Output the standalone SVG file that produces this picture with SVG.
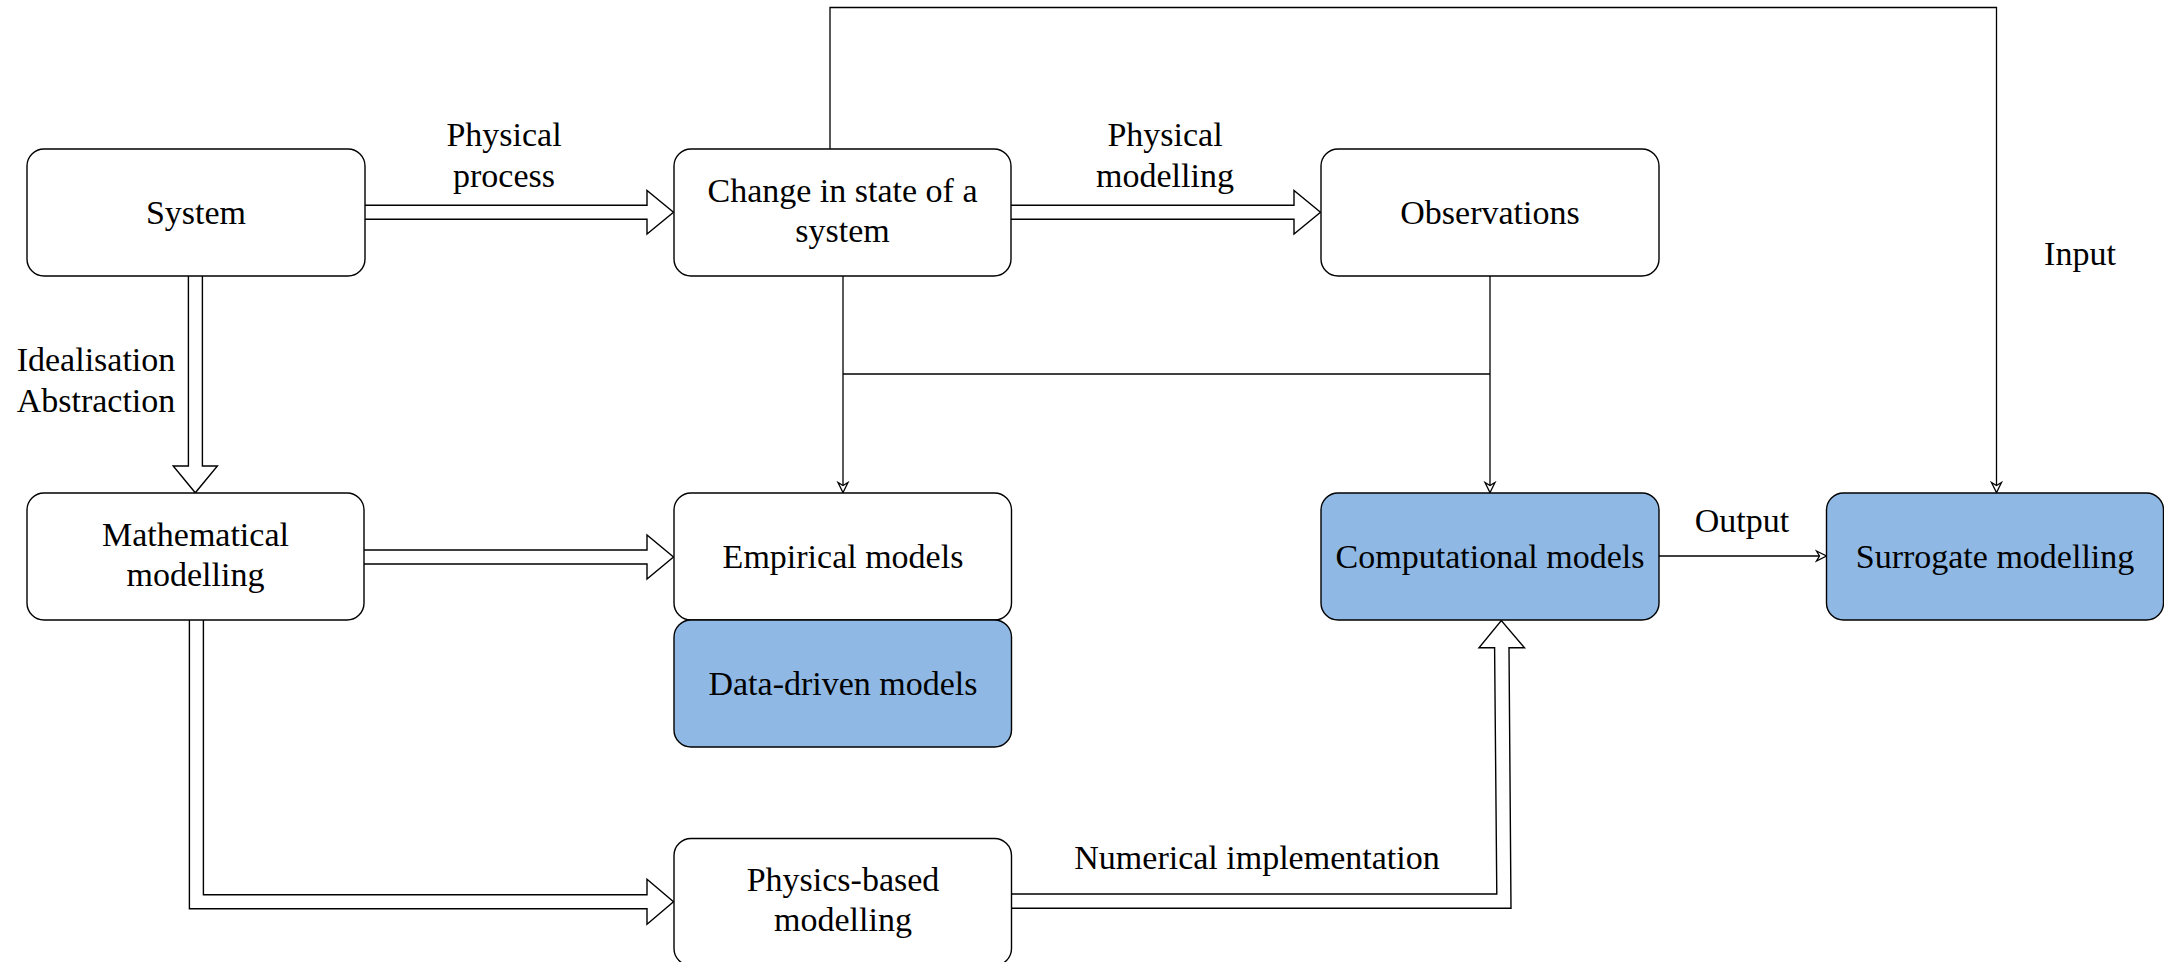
<svg xmlns="http://www.w3.org/2000/svg" width="2164" height="962" viewBox="0 0 2164 962">
  <style>
    .box { fill: #ffffff; stroke: #000000; stroke-width: 1.4; }
    .blue { fill: #8fb9e4; }
    .flex { fill: #ffffff; stroke: #000000; stroke-width: 1.4; stroke-linejoin: miter; }
    .line { fill: none; stroke: #000000; stroke-width: 1.3; }
    text { font-family: "Liberation Serif", "Times New Roman", serif; font-size: 34px; fill: #000000; text-anchor: middle; }
  </style>
  <defs>
    <marker id="openArrow" markerUnits="userSpaceOnUse" markerWidth="14" markerHeight="14" viewBox="-2 -2 14 14" refX="10" refY="5" orient="auto">
      <path d="M0,0 L10,5 L0,10 L3,5 Z" fill="#ffffff" stroke="#000000" stroke-width="1.3" stroke-linejoin="miter"/>
    </marker>
  </defs>

  <!-- connectors -->
  <g id="connectors">
    <!-- System to Change in state (block arrow) -->
    <path class="flex" d="M365,205.3 L647,205.3 L647,190.5 L673.5,212.3 L647,234 L647,219.3 L365,219.3"/>
    <!-- Change in state to Observations -->
    <path class="flex" d="M1011,205.3 L1294,205.3 L1294,190.5 L1320.5,212.3 L1294,234 L1294,219.3 L1011,219.3"/>
    <!-- System to Mathematical modelling -->
    <path class="flex" d="M188.4,276 L188.4,466 L173.2,466 L195.3,492.8 L217.4,466 L202.4,466 L202.4,276"/>
    <!-- Mathematical modelling to Empirical models -->
    <path class="flex" d="M364,550 L647,550 L647,535 L673.5,557 L647,579 L647,564 L364,564"/>
    <!-- Mathematical modelling to Physics-based modelling -->
    <path class="flex" d="M189.4,620 L189.4,908.7 L647,908.7 L647,924.3 L673.5,901.7 L647,879.3 L647,894.7 L203.4,894.7 L203.4,620"/>
    <!-- Physics-based modelling to Computational models -->
    <path class="flex" d="M1012,894 L1496.8,894 L1494.6,647.7 L1479,647.7 L1501.3,620.5 L1524.5,647.7 L1509,647.7 L1511,908.3 L1012,908.3"/>

    <!-- Input line over the top -->
    <path class="line" d="M830,149 L830,7.5 L1996.5,7.5 L1996.5,492.5" marker-end="url(#openArrow)"/>
    <!-- Change in state down to Empirical models -->
    <path class="line" d="M843,276 L843,492.5" marker-end="url(#openArrow)"/>
    <!-- Junction line -->
    <path class="line" d="M843,374 L1490,374"/>
    <!-- Observations down to Computational models -->
    <path class="line" d="M1490,276 L1490,492.5" marker-end="url(#openArrow)"/>
    <!-- Output -->
    <path class="line" d="M1659,556 L1826.5,556" marker-end="url(#openArrow)"/>

    <!-- connector labels -->
    <text x="504" y="146">Physical</text>
    <text x="504" y="187">process</text>
    <text x="1165" y="146">Physical</text>
    <text x="1165" y="187">modelling</text>
    <text x="96" y="371">Idealisation</text>
    <text x="96" y="412">Abstraction</text>
    <text x="2080" y="265">Input</text>
    <text x="1742" y="532">Output</text>
    <text x="1257" y="869">Numerical implementation</text>
  </g>

  <!-- nodes -->
  <g id="system">
    <rect class="box" x="27" y="149" width="338" height="127" rx="17" ry="17"/>
    <text x="196" y="224">System</text>
  </g>
  <g id="change-in-state">
    <rect class="box" x="674" y="149" width="337" height="127" rx="17" ry="17"/>
    <text x="842.5" y="202">Change in state of a</text>
    <text x="842.5" y="241.5">system</text>
  </g>
  <g id="observations">
    <rect class="box" x="1321" y="149" width="338" height="127" rx="17" ry="17"/>
    <text x="1490" y="224">Observations</text>
  </g>
  <g id="mathematical-modelling">
    <rect class="box" x="27" y="493" width="337" height="127" rx="17" ry="17"/>
    <text x="195.5" y="546">Mathematical</text>
    <text x="195.5" y="585.5">modelling</text>
  </g>
  <g id="empirical-models">
    <rect class="box" x="674" y="493" width="337.5" height="127" rx="17" ry="17"/>
    <text x="843" y="568">Empirical models</text>
  </g>
  <g id="data-driven-models">
    <rect class="box blue" x="674" y="620" width="337.5" height="127" rx="17" ry="17"/>
    <text x="843" y="695">Data-driven models</text>
  </g>
  <g id="computational-models">
    <rect class="box blue" x="1321" y="493" width="338" height="127" rx="17" ry="17"/>
    <text x="1490" y="568">Computational models</text>
  </g>
  <g id="surrogate-modelling">
    <rect class="box blue" x="1826.5" y="493" width="337" height="127" rx="17" ry="17"/>
    <text x="1995" y="568">Surrogate modelling</text>
  </g>
  <g id="physics-based-modelling">
    <rect class="box" x="674" y="838.5" width="337.5" height="127" rx="17" ry="17"/>
    <text x="843" y="891">Physics-based</text>
    <text x="843" y="930.5">modelling</text>
  </g>
</svg>
